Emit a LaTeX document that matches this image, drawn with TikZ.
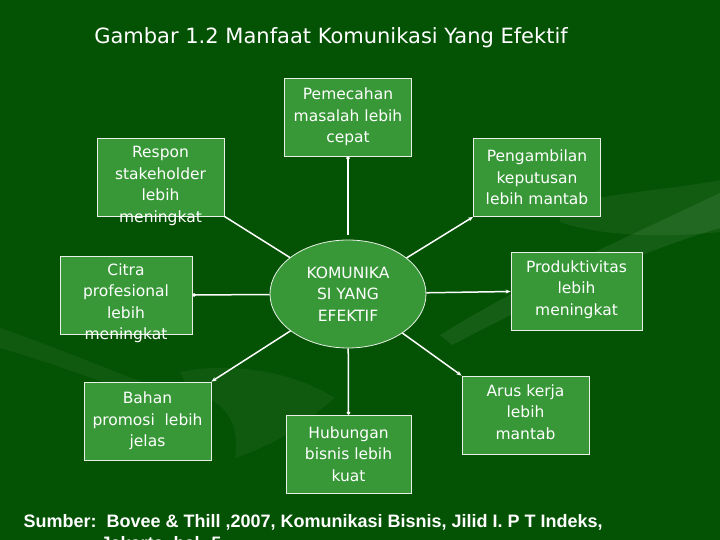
\documentclass[tikz,border=0pt]{standalone}
\usepackage{fontspec}
\setmainfont{DejaVu Sans}
\newfontfamily\srcfont{Liberation Sans}
\usetikzlibrary{arrows.meta, positioning, shapes.geometric}
\definecolor{bggreen}{RGB}{4,82,4}
\definecolor{boxgreen}{RGB}{56,152,56}
\definecolor{rimwhite}{RGB}{232,240,232}

\begin{document}
\begin{tikzpicture}[x=1pt,y=-1pt]
    \tikzstyle{box}=[rectangle, draw=rimwhite, line width=0.8pt, fill=boxgreen, minimum width=127pt, minimum height=78pt, inner sep=0pt]
    \tikzstyle{boxtext}=[text=white, align=center, inner sep=0pt, font=\fontsize{15.5}{21.5}\selectfont]
    \tikzstyle{hub}=[ellipse, draw=rimwhite, line width=0.8pt, fill=boxgreen, minimum width=156pt, minimum height=108pt, inner sep=0pt]
    \tikzstyle{link}=[draw=white, line width=1.5pt]
    \tikzstyle{tip}=[link, -{Stealth[length=5pt,width=4pt]}]
    \tikzstyle{dot}=[link, -{Circle[length=3.5pt]}]

    \useasboundingbox (0,0) rectangle (720,540);
    \fill[bggreen] (0,0) rectangle (720,540);

%   faint swooshes in the background
    \fill[white, opacity=0.07] (440,335) .. controls (520,285) and (610,245) .. (720,193)
        -- (720,228) .. controls (620,258) and (540,300) .. (452,345) -- cycle;
    \fill[white, opacity=0.06] (560,205) .. controls (620,192) and (680,188) .. (720,180)
        -- (720,232) .. controls (660,238) and (600,236) .. (560,222) -- cycle;
    \fill[white, opacity=0.05] (0,328) .. controls (50,345) and (110,370) .. (175,395)
        -- (170,405) .. controls (110,385) and (50,362) .. (0,348) -- cycle;
    \fill[white, opacity=0.05] (180,372) .. controls (230,362) and (290,370) .. (335,398)
        -- (320,410) .. controls (300,430) and (260,450) .. (235,458)
        .. controls (240,430) and (230,400) .. (190,392) -- cycle;

    \node[text=white, font=\fontsize{21}{25}\selectfont] (title) at (331,38) {Gambar 1.2 Manfaat Komunikasi Yang Efektif};

    \node[hub] (kom) at (348,294) {};
    \node[boxtext] (kom-t) at (kom) {KOMUNIKA\\SI YANG\\EFEKTIF};

    \node[box] (pemecahan) at (348,117) {};
    \node[box] (respon) at (160.5,177) {};
    \node[box] (pengambilan) at (537,177.5) {};
    \node[box, minimum width=132pt] (citra) at (126,295) {};
    \node[box, minimum width=131pt] (produktivitas) at (576.5,291.5) {};
    \node[box] (bahan) at (147.5,421) {};
    \node[box, minimum width=125pt] (hubungan) at (348.5,454) {};
    \node[box] (arus) at (525.5,415) {};

    \node[boxtext] (pemecahan-t) at (pemecahan) {Pemecahan\\masalah lebih\\cepat};
    \node[boxtext] (respon-t) at ([yshift=-9pt]respon.center) {Respon\\stakeholder\\lebih\\meningkat};
    \node[boxtext] (pengambilan-t) at (pengambilan) {Pengambilan\\keputusan\\lebih mantab};
    \node[boxtext] (citra-t) at ([yshift=-8pt]citra.center) {Citra\\profesional\\lebih\\meningkat};
    \node[boxtext] (produktivitas-t) at ([yshift=2pt]produktivitas.center) {Produktivitas\\lebih\\meningkat};
    \node[boxtext] (bahan-t) at (bahan) {Bahan\\promosi\ \ lebih\\jelas};
    \node[boxtext] (hubungan-t) at (hubungan) {Hubungan\\bisnis lebih\\kuat};
    \node[boxtext] (arus-t) at ([yshift=3pt]arus.center) {Arus kerja\\lebih\\mantab};

    \path[dot, shorten <=5pt] (kom) -- (pemecahan.south);
    \path[link] (kom) -- (respon.south east);
    \path[tip] (kom) -- (pengambilan.south west);
    \path[dot] (kom) -- (citra.east);
    \path[tip] (kom) -- (produktivitas.west);
    \path[tip] (kom) -- (bahan.north east);
    \path[dot] (kom) -- (hubungan.north);
    \path[tip] (kom) -- (arus.north west);

    \node[anchor=base west, text=white, font=\srcfont\bfseries\fontsize{18}{22}\selectfont] (src) at (20,527)
        {Sumber:\ \ Bovee \& Thill ,2007, Komunikasi Bisnis, Jilid I. P T Indeks,};
    \node[anchor=base west, text=white, font=\srcfont\bfseries\fontsize{18}{22}\selectfont] (src-2) at (97,549)
        {Jakarta, hal. 5};
\end{tikzpicture}
\end{document}
